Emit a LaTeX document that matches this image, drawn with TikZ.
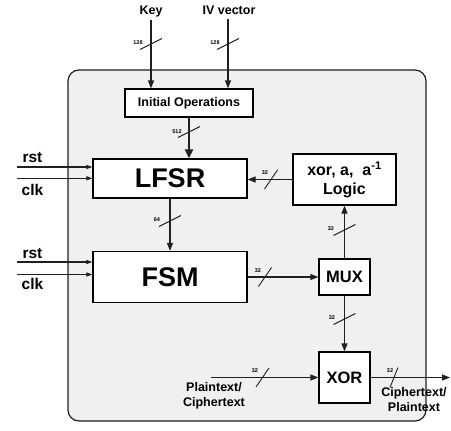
\documentclass[tikz,border=0pt]{standalone}
\usepackage{fontspec}
\setmainfont{Liberation Sans}
\usetikzlibrary{arrows.meta,calc}
\definecolor{bgfill}{HTML}{F0F0F0}
\definecolor{edge}{HTML}{202020}
\begin{document}
\begin{tikzpicture}[x=1pt,y=-1pt,
  blk/.style={draw=black,line width=1.2pt,fill=white,inner sep=0pt,align=center},
  wire/.style={line width=1.2pt,draw=edge},
  arr/.style={wire,-{Triangle[length=8pt,width=6pt]}},
  sarr/.style={wire,-{Triangle[length=6pt,width=4pt]}},
  barr/.style={line width=2.4pt,draw=edge,-{Triangle[length=9pt,width=8pt]}},
  slashm/.style={line width=0.9pt,draw=edge},
  num/.style={font=\bfseries\fontsize{5.5}{6}\selectfont,inner sep=0pt},
  lbl/.style={font=\bfseries\fontsize{12.5}{15}\selectfont,inner sep=0pt,align=center},
  ctl/.style={font=\bfseries\fontsize{15.5}{17}\selectfont,inner sep=0pt}]
\useasboundingbox (0,0) rectangle (451,431);
% outer module
\draw[fill=bgfill,draw=edge,line width=1.2pt,rounded corners=11pt] (68,70) rectangle (426,421);
% blocks
\node[blk,minimum width=128pt,minimum height=28pt,font=\bfseries\fontsize{12.5}{14}\selectfont] (init) at (189,103) {Initial Operations};
\node[blk,minimum width=154pt,minimum height=39pt,font=\bfseries\fontsize{27}{30}\selectfont] (lfsr) at (170,178.5) {LFSR};
\node[blk,minimum width=103pt,minimum height=51pt,font=\bfseries\fontsize{16}{19}\selectfont] (logic) at (344.5,179.5) {xor, a,\ \ a\textsuperscript{-1}\\Logic};
\node[blk,minimum width=154pt,minimum height=51pt,font=\bfseries\fontsize{27}{30}\selectfont] (fsm) at (170,277) {FSM};
\node[blk,minimum width=51pt,minimum height=36pt,font=\bfseries\fontsize{16.5}{18}\selectfont] (mux) at (344.5,277) {MUX};
\node[blk,minimum width=51pt,minimum height=51pt,font=\bfseries\fontsize{16.5}{18}\selectfont] (xor) at (344.5,377.5) {XOR};
% external labels
\node[lbl] (key) at (151,11) {Key};
\node[lbl] (iv) at (229,10) {IV vector};
\node[ctl] (rsta) at (32.5,158) {rst};
\node[ctl] (clka) at (32.5,189.5) {clk};
\node[ctl] (rstb) at (32.5,253.3) {rst};
\node[ctl] (clkb) at (32.5,284) {clk};
\node[lbl] (ptin) at (214,395.5) {Plaintext/\\Ciphertext};
\node[lbl] (ctout) at (414,400) {Ciphertext/\\Plaintext};
% free ends
\coordinate (keyin) at (151,20);
\coordinate (ivin) at (228,19);
\coordinate (ra) at (17,167);
\coordinate (ca) at (17,178.3);
\coordinate (rb) at (17,262);
\coordinate (cb) at (17,274.5);
\coordinate (pin) at (211,377.5);
\coordinate (pout) at (450,377.5);
% connectors
\draw[arr] (keyin) -- (keyin |- init.north);
\draw[arr] (ivin) -- (ivin |- init.north);
\draw[barr] (init.south) -- (init.south |- lfsr.north);
\draw[arr] (lfsr.south) -- (fsm.north);
\draw[arr] (logic.west) -- (logic.west -| lfsr.east);
\draw[arr] (fsm.east) -- (mux.west);
\draw[arr] (mux.north) -- (logic.south);
\draw[arr] (mux.south) -- (xor.north);
\draw[arr] (pin) -- (xor.west);
\draw[arr] (xor.east) -- (pout);
\draw[sarr] (ra) -- (ra -| lfsr.west);
\draw[sarr] (ca) -- (ca -| lfsr.west);
\draw[sarr] (rb) -- (rb -| fsm.west);
\draw[sarr] (cb) -- (cb -| fsm.west);
% bus width marks
\draw[slashm] (151,44) +(-11,5.5) -- +(11,-5.5);
\draw[slashm] (228,44) +(-11,5.5) -- +(11,-5.5);
\draw[slashm] (189,132) +(-11,5.5) -- +(11,-5.5);
\draw[slashm] (170,221) +(-11,5.5) -- +(11,-5.5);
\draw[slashm] (344.5,230) +(-11,5.5) -- +(11,-5.5);
\draw[slashm] (344.5,319) +(-11,5.5) -- +(11,-5.5);
\draw[slashm] (271,179.5) +(-6.5,9.5) -- +(6.5,-9.5);
\draw[slashm] (265,277) +(-6.5,9.5) -- +(6.5,-9.5);
\draw[slashm] (262.5,377.5) +(-6.5,9.5) -- +(6.5,-9.5);
\draw[slashm] (394,377.5) +(-4,10) -- +(4,-10);
\node[num] (n1) at (138,43) {128};
\node[num] (n2) at (215,43) {128};
\node[num] (n3) at (177,132) {512};
\node[num] (n4) at (157,220) {64};
\node[num] (n5) at (331,229) {32};
\node[num] (n6) at (332,318) {32};
\node[num] (n7) at (265,173) {32};
\node[num] (n8) at (258,271) {32};
\node[num] (n9) at (255,371) {32};
\node[num] (n10) at (390,371) {32};
\end{tikzpicture}
\end{document}
